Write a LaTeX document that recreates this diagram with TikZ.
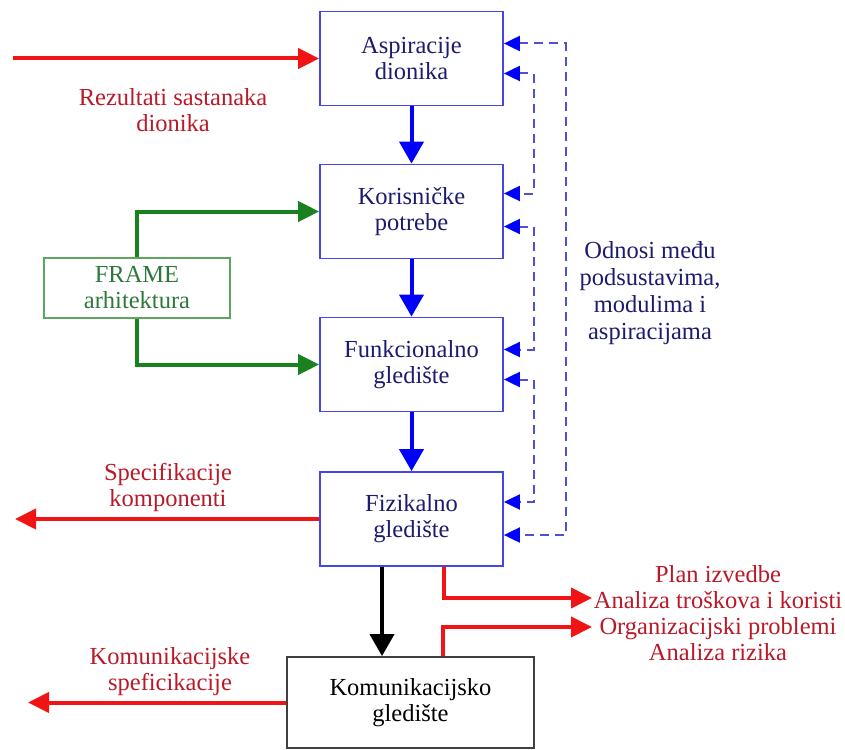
\documentclass[tikz,border=0pt]{standalone}
\usepackage{fontspec}
\setmainfont{Liberation Serif}
\usetikzlibrary{arrows.meta}
\definecolor{boxblue}{RGB}{70,70,225}
\definecolor{dashblue}{RGB}{80,80,215}
\definecolor{navytext}{RGB}{28,28,110}
\definecolor{arrowred}{RGB}{240,20,20}
\definecolor{labelred}{RGB}{185,25,40}
\definecolor{framegreen}{RGB}{95,165,95}
\definecolor{arrowgreen}{RGB}{25,130,30}
\definecolor{textgreen}{RGB}{45,120,60}

\begin{document}
\begin{tikzpicture}[x=1pt,y=-1pt]
\tikzstyle{every node}+=[inner sep=0pt, align=center, font=\fontsize{24.5}{26}\selectfont]
\tikzstyle{viewbox}=[draw=boxblue, line width=1.8pt, fill=white, text=navytext, minimum width=183pt, minimum height=94pt]
\tikzstyle{flowblue}=[draw=blue, line width=4pt, -{Triangle[length=22pt,width=24pt]}]
\tikzstyle{flowred}=[draw=arrowred, line width=4pt, -{Triangle[length=21pt,width=20pt]}]
\tikzstyle{flowgreen}=[draw=arrowgreen, line width=4pt, -{Triangle[length=21pt,width=20pt]}]
\tikzstyle{linkdash}=[draw=dashblue, line width=2pt, dash pattern=on 9pt off 6pt, {Triangle[length=16pt,width=15pt,fill=blue,color=blue]}-{Triangle[length=16pt,width=15pt,fill=blue,color=blue]}]
\useasboundingbox (0,0) rectangle (845,749);
% boxes
\node [viewbox] (asp) at (411.5,58.5) {Aspiracije\\dionika};
\node [viewbox] (kor) at (411.5,211.5) {Korisničke\\potrebe};
\node [viewbox] (fun) at (411.5,364.5) {Funkcionalno\\gledište};
\node [viewbox] (fiz) at (411.5,519) {Fizikalno\\gledište};
\node [draw=black!75, line width=1.8pt, fill=white, minimum width=247pt, minimum height=91pt] (kom) at (410.5,702.5) {Komunikacijsko\\gledište};
\node [draw=framegreen, line width=1.8pt, text=textgreen, minimum width=186pt, minimum height=60pt] (frame) at (137,288) {FRAME\\arhitektura};
% labels
\node [text=labelred] (rez) at (173,110) {Rezultati sastanaka\\dionika};
\node [text=labelred] (spec) at (168,487) {Specifikacije\\komponenti};
\node [text=labelred] (komspec) at (170,672) {Komunikacijske\\speficikacije};
\node [text=labelred] (plan) at (718,613) {Plan izvedbe\\Analiza troškova i koristi\\Organizacijski problemi\\Analiza rizika};
\node [text=navytext, font=\fontsize{24.5}{27}\selectfont] (odnosi) at (650,293) {Odnosi među\\podsustavima,\\modulima i\\aspiracijama};
% free ends
\coordinate (rezIn) at (13,58.5);
\coordinate (specOut) at (15,519);
\coordinate (komOut) at (28,702.5);
\coordinate (planIn) at (592,598);
\coordinate (orgIn) at (592,627);
% main flow
\draw [flowred] (rezIn) -- (asp.west);
\draw [flowblue] (asp) -- (kor);
\draw [flowblue] (kor) -- (fun);
\draw [flowblue] (fun) -- (fiz);
\draw [black, line width=4pt, -{Triangle[length=22pt,width=24pt]}] ([xshift=-29.5pt]fiz.south) -- ([xshift=-28.5pt]kom.north);
% FRAME inputs
\draw [flowgreen] (frame.north) |- (kor.west);
\draw [flowgreen] (frame.south) |- (fun.west);
% outputs
\draw [flowred] (fiz.west) -- (specOut);
\draw [flowred] (kom.west) -- (komOut);
\draw [flowred] ([xshift=32pt]fiz.south) |- (planIn);
\draw [flowred] ([xshift=32.5pt]kom.north) |- (orgIn);
% dashed links
\draw [linkdash] ([yshift=15pt]asp.east) -- ++(62,0) |- ([yshift=-16pt]fiz.east);
\draw [linkdash] ([yshift=-15pt]asp.east) -- ++(30,0) |- ([yshift=18pt]kor.east);
\draw [linkdash] ([yshift=-15pt]kor.east) -- ++(30,0) |- ([yshift=15pt]fun.east);
\draw [linkdash] ([yshift=-15pt]fun.east) -- ++(30,0) |- ([yshift=17pt]fiz.east);
\end{tikzpicture}
\end{document}
